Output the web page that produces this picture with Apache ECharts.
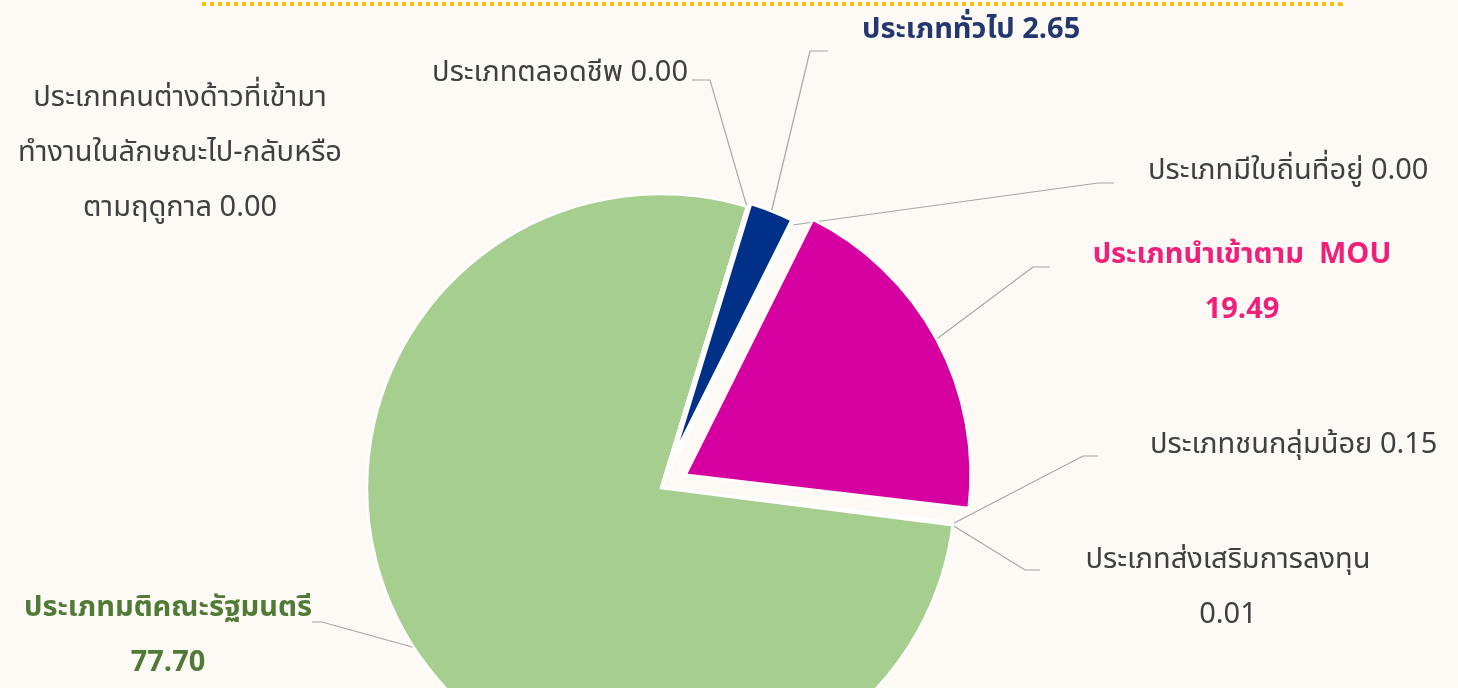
<!DOCTYPE html>
<html>
<head>
<meta charset="utf-8">
<script src="https://cdn.jsdelivr.net/npm/echarts@6/dist/echarts.min.js"></script>
<style>
    html, body { margin: 0; padding: 0; background: #fdf9f5; }
    #chart { width: 1458px; height: 688px; }
</style>
</head>
<body>
<div id="chart"></div>
<script>
// slices, clockwise from the top
const categories = [
    'ประเภททั่วไป',
    'ประเภทมีใบถิ่นที่อยู่',
    'ประเภทนำเข้าตาม  MOU',
    'ประเภทชนกลุ่มน้อย',
    'ประเภทส่งเสริมการลงทุน',
    'ประเภทมติคณะรัฐมนตรี',
    'ประเภทคนต่างด้าวที่เข้ามาทำงานในลักษณะไป-กลับหรือตามฤดูกาล',
    'ประเภทตลอดชีพ'
];
const values = [2.65, 0.00, 19.49, 0.15, 0.01, 77.70, 0.00, 0.00];

const sliceColors = ['#003087', '#7f7f7f', '#d5009f', '#ed7d31', '#5b9bd5', '#a6ce8e', '#ffc000', '#4472c4'];
const labelColors = ['#23386f', '#404040', '#f0207a', '#404040', '#404040', '#507a35', '#404040', '#404040'];
const labelBold = [true, false, true, false, false, true, false, false];

// pulled-out slices: distance from the centre and their own radius
const explodeDist = [36, 0, 28, 0, 0, 0, 0, 0];
const sliceRadius = [262, 294, 285, 294, 294, 294, 294, 294];

// where each label sits: x, y, align
const labelSpots = [
    [862, 32, 'left'],
    [1148, 173, 'left'],
    [1242, 285, 'center'],
    [1150, 447, 'left'],
    [1228, 590, 'center'],
    [168, 638, 'center'],
    [180, 155, 'center'],
    [688, 75, 'right']
];
// bend and end of each leader line
const lineBends = [
    [[810, 51], [828, 51]],
    [[1098, 183], [1114, 183]],
    [[1033, 267], [1050, 267]],
    [[1083, 456], [1098, 456]],
    [[1025, 570], [1040, 570]],
    [[322, 622], [312, 622]],
    null,
    [[710, 80], [692, 80]]
];

const cx = 661, cy = 488;
const firstSliceDeg = 17; // clockwise from 12 o'clock

function labelText(i) {
    const v = values[i].toFixed(2);
    if (i === 6) return 'ประเภทคนต่างด้าวที่เข้ามา\nทำงานในลักษณะไป-กลับหรือ\nตามฤดูกาล ' + v;
    if (i === 2 || i === 4 || i === 5) return categories[i] + '\n' + v;
    return categories[i] + ' ' + v;
}

const total = values.reduce(function (a, b) { return a + b; }, 0);
function midDeg(i) {
    let acc = 0;
    for (let k = 0; k < i; k++) acc += values[k];
    return firstSliceDeg + (acc + values[i] / 2) / total * 360;
}

// one pie series per group of slices, the others left transparent so angles stay shared
function makePie(members, center, radius) {
    return {
        type: 'pie',
        center: center,
        radius: radius,
        startAngle: 90 - firstSliceDeg,
        clockwise: true,
        silent: true,
        avoidLabelOverlap: false,
        emphasis: { disabled: true },
        itemStyle: { borderColor: '#ffffff', borderWidth: 2.5 },
        label: {
            show: true,
            position: 'outside',
            fontFamily: 'Tahoma, "Leelawadee UI", "Noto Sans Thai", "Noto Sans", sans-serif',
            fontSize: 29,
            lineHeight: 55,
            formatter: function (p) { return labelText(p.dataIndex); }
        },
        labelLine: {
            show: true,
            lineStyle: { color: '#a6a6a6', width: 1.2 }
        },
        labelLayout: function (params) {
            const i = params.dataIndex;
            const spot = labelSpots[i];
            const out = { x: spot[0], y: spot[1], align: spot[2], verticalAlign: 'middle' };
            if (lineBends[i] && params.labelLinePoints) {
                out.labelLinePoints = [params.labelLinePoints[0], lineBends[i][0], lineBends[i][1]];
            }
            return out;
        },
        data: categories.map(function (name, i) {
            if (members.indexOf(i) < 0) {
                return {
                    name: name, value: values[i],
                    itemStyle: { color: 'rgba(0,0,0,0)', borderWidth: 0 },
                    label: { show: false }, labelLine: { show: false }
                };
            }
            return {
                name: name, value: values[i],
                itemStyle: { color: sliceColors[i] },
                label: { color: labelColors[i], fontWeight: labelBold[i] ? 'bold' : 'normal' },
                labelLine: { show: lineBends[i] != null }
            };
        })
    };
}

const mainMembers = [];
const pulledSeries = [];
values.forEach(function (v, i) {
    if (explodeDist[i] > 0) {
        const a = midDeg(i) * Math.PI / 180;
        const c = [cx + explodeDist[i] * Math.sin(a), cy - explodeDist[i] * Math.cos(a)];
        pulledSeries.push(makePie([i], c, sliceRadius[i]));
    } else {
        mainMembers.push(i);
    }
});

const chart = echarts.init(document.getElementById('chart'));
chart.setOption({
    backgroundColor: '#fdf9f5',
    animation: false,
    graphic: [{
        type: 'rect',
        shape: { x: 204, y: -100, width: 1137, height: 104 },
        style: { fill: 'none', stroke: '#ffc000', lineWidth: 4, lineDash: [4, 4] },
        silent: true
    }],
    series: [makePie(mainMembers, [cx, cy], 294)].concat(pulledSeries)
});
</script>
</body>
</html>
